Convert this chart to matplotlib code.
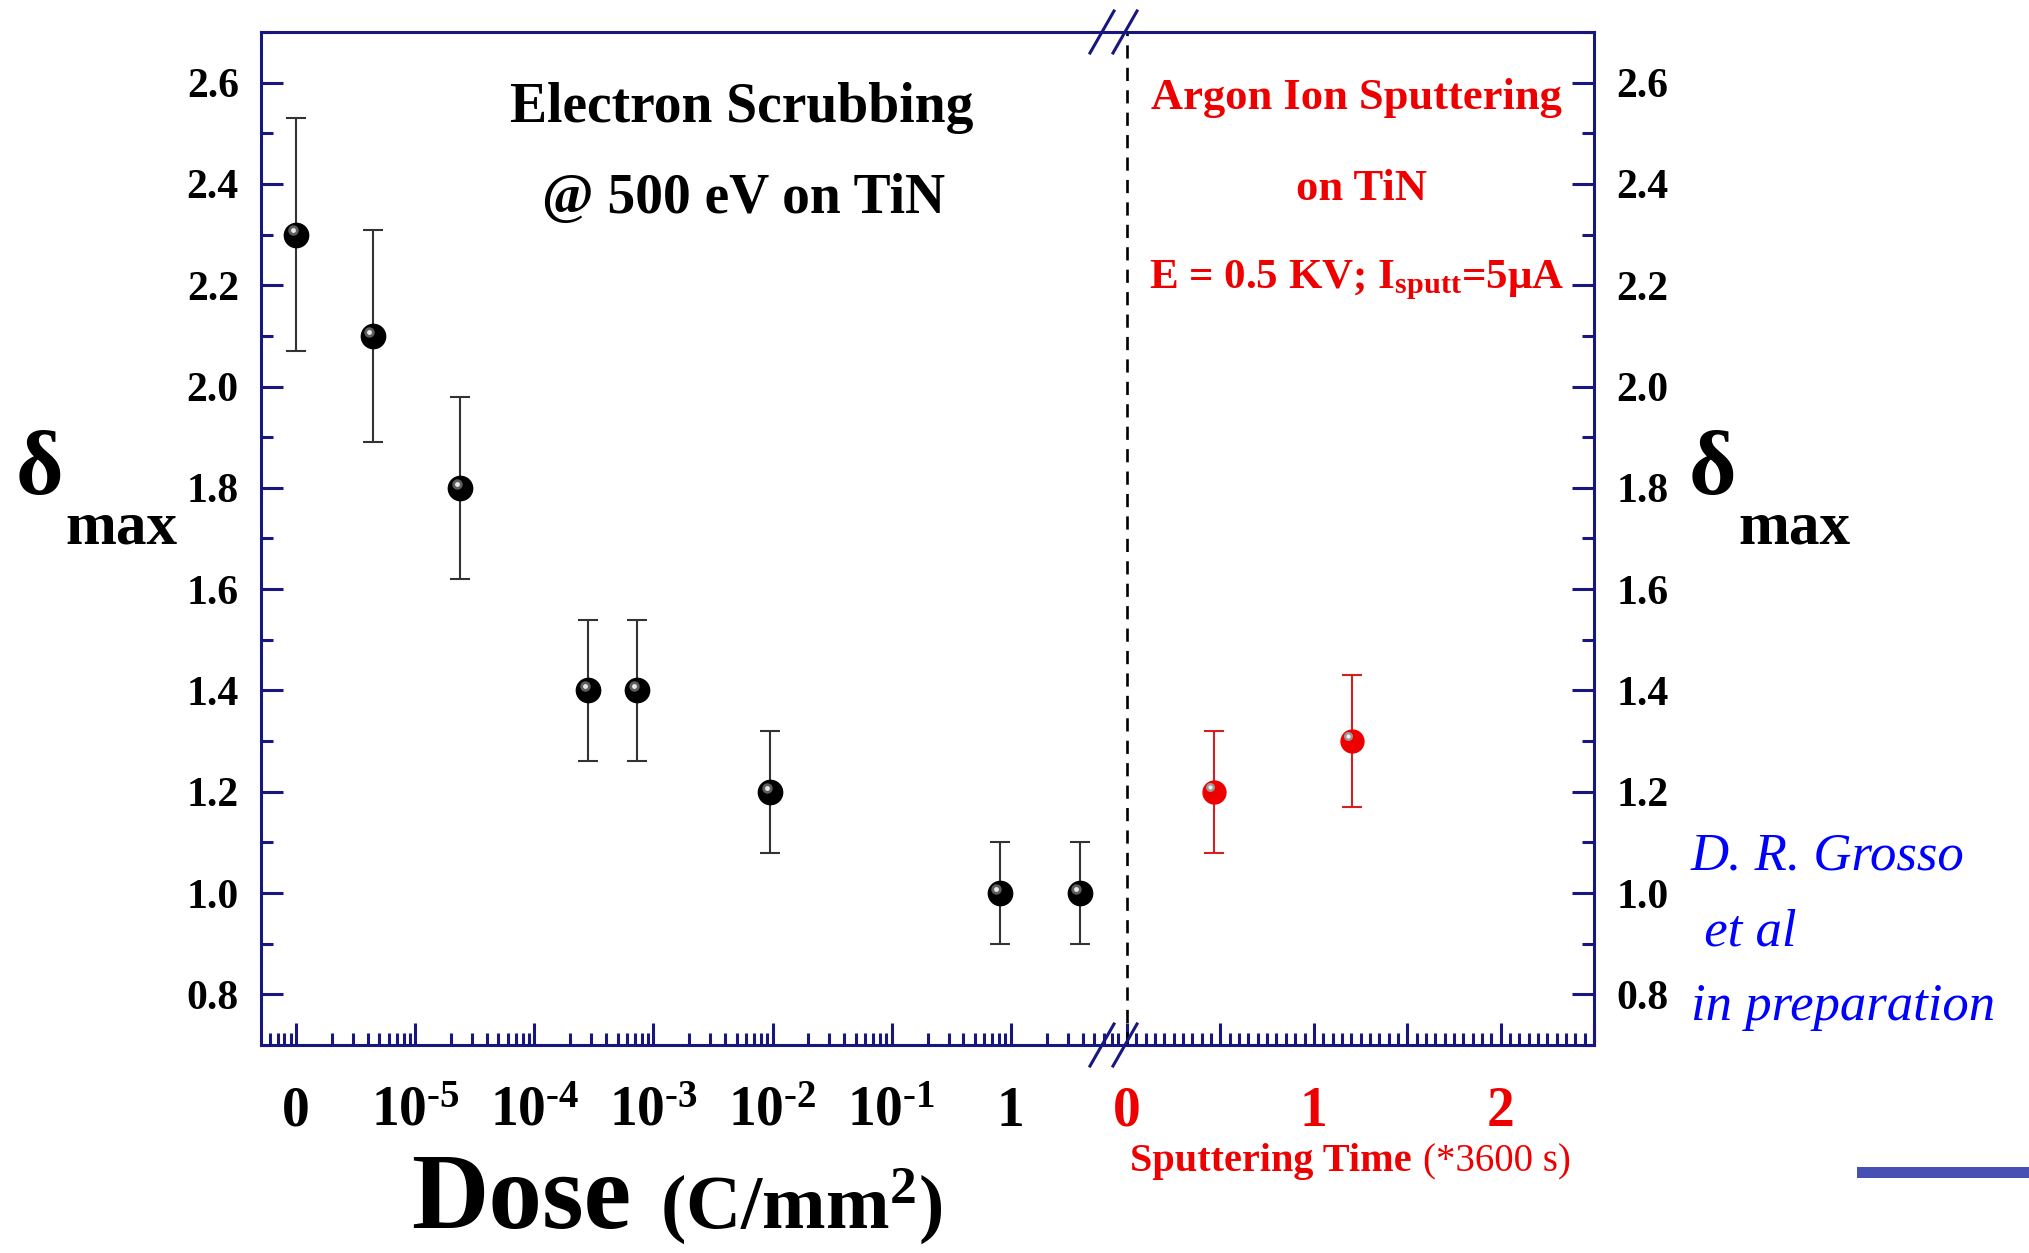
import matplotlib
matplotlib.use('Agg')
import matplotlib.pyplot as plt
from matplotlib.lines import Line2D
from matplotlib.patches import Rectangle
from matplotlib.ticker import FixedLocator, LogLocator, MultipleLocator, FixedFormatter, NullFormatter
from matplotlib.transforms import ScaledTranslation

# ---- data ----
dose          = [1e-6, 4.4e-6, 2.4e-5, 2.85e-4, 7.3e-4, 9.6e-3, 0.81, 3.8]
delta_scrub   = [2.30, 2.10, 1.80, 1.40, 1.40, 1.20, 1.00, 1.00]
err_scrub     = [0.23, 0.21, 0.18, 0.14, 0.14, 0.12, 0.10, 0.10]

sputter_time  = [0.465, 1.205]
delta_sputter = [1.20, 1.30]
err_sputter   = [0.12, 0.13]

dose_ticks    = [1e-6, 1e-5, 1e-4, 1e-3, 1e-2, 1e-1, 1]
dose_labels   = ['0'] + [r'$\mathbf{10^{\text{-}%d}}$' % k for k in (5, 4, 3, 2, 1)] + ['1']
time_ticks    = [0, 0.5, 1, 1.5, 2, 2.5]
time_labels   = ['0', '', '1', '', '2', '']
y_ticks       = [0.8, 1.0, 1.2, 1.4, 1.6, 1.8, 2.0, 2.2, 2.4, 2.6]

NAVY = '#17177f'
RED  = '#ee0000'

plt.rcParams['font.family'] = 'Liberation Serif'
plt.rcParams['font.weight'] = 'bold'
plt.rcParams['mathtext.fontset'] = 'custom'
plt.rcParams['mathtext.rm'] = 'Liberation Serif:bold'
plt.rcParams['mathtext.bf'] = 'Liberation Serif:bold'
plt.rcParams['mathtext.it'] = 'Liberation Serif:italic'

W, H = 2029, 1253
fig = plt.figure(figsize=(W / 100, H / 100), dpi=100)
fig.patch.set_facecolor('white')

top, bot = 32, 1045
split, right = 1114, 1594
ax1 = fig.add_axes([261 / W, 1 - bot / H, (split - 261) / W, (bot - top) / H])
ax2 = fig.add_axes([split / W, 1 - bot / H, (right - split) / W, (bot - top) / H])

for ax in (ax1, ax2):
    ax.set_ylim(0.7, 2.7)
    ax.yaxis.set_major_locator(FixedLocator(y_ticks))
    ax.yaxis.set_minor_locator(MultipleLocator(0.1))
    ax.tick_params(which='both', direction='in', color=NAVY, width=2.2)
    ax.tick_params(which='major', length=16)
    ax.tick_params(which='minor', length=8.5)
    ax.tick_params(axis='y', labelsize=30, pad=16)
    for s in ax.spines.values():
        s.set_color(NAVY)
        s.set_linewidth(2.2)

# ---- left panel: electron scrubbing ----
ax1.set_xscale('log')
ax1.set_xlim(10 ** -6.294, 10 ** 0.866)
ax1.spines['right'].set_visible(False)
ax1.xaxis.set_major_locator(FixedLocator(dose_ticks))
ax1.xaxis.set_major_formatter(FixedFormatter(dose_labels))
ax1.xaxis.set_minor_locator(LogLocator(base=10, subs=range(2, 10), numticks=50))
ax1.xaxis.set_minor_formatter(NullFormatter())
ax1.tick_params(axis='x', labelsize=40, pad=58)
ax1.tick_params(axis='y', which='both', left=True, right=False)
for t in ax1.get_xticklabels():
    t.set_va('baseline')

ax1.errorbar(dose, delta_scrub, yerr=err_scrub, fmt='none', ecolor='#333333',
             elinewidth=1.5, capsize=7.5, capthick=1.5, zorder=3)
ax1.plot(dose, delta_scrub, 'o', ms=17.5, mfc='black', mec='black', zorder=4)
hl1 = ax1.transData + ScaledTranslation(-2.5 / 72, 3 / 72, fig.dpi_scale_trans)
ax1.plot(dose, delta_scrub, 'o', ms=7.5, mfc='#777777', mec='none', alpha=0.8,
         transform=hl1, zorder=5)
ax1.plot(dose, delta_scrub, 'o', ms=3.5, mfc='#e8e8e8', mec='none',
         transform=hl1, zorder=6)

ax1.text(0.563, 0.925, 'Electron Scrubbing', transform=ax1.transAxes,
         ha='center', va='center', fontsize=40)
ax1.text(0.566, 0.835, '@ 500 eV on TiN', transform=ax1.transAxes,
         ha='center', va='center', fontsize=40)

# ---- right panel: argon ion sputtering ----
ax2.set_xlim(-0.07, 2.5)
ax2.spines['left'].set_visible(False)
ax2.xaxis.set_major_locator(FixedLocator(time_ticks))
ax2.xaxis.set_major_formatter(FixedFormatter(time_labels))
ax2.xaxis.set_minor_locator(MultipleLocator(0.05))
ax2.tick_params(axis='x', labelsize=40, pad=58, labelcolor=RED)
ax2.tick_params(axis='y', which='both', left=False, right=True,
                labelleft=False, labelright=True)
for t in ax2.get_xticklabels():
    t.set_va('baseline')

ax2.axvline(0, color='black', lw=1.9, ls=(0, (5, 3.5)), zorder=2)

ax2.errorbar(sputter_time, delta_sputter, yerr=err_sputter, fmt='none', ecolor='#d42020',
             elinewidth=1.5, capsize=7.5, capthick=1.5, zorder=3)
ax2.plot(sputter_time, delta_sputter, 'o', ms=16.5, mfc=RED, mec=RED, zorder=4)
hl2 = ax2.transData + ScaledTranslation(-3 / 72, 3.6 / 72, fig.dpi_scale_trans)
ax2.plot(sputter_time, delta_sputter, 'o', ms=6.5, mfc='#999999', mec='none',
         transform=hl2, zorder=5)
ax2.plot(sputter_time, delta_sputter, 'o', ms=3, mfc='#f0f0f0', mec='none',
         transform=hl2, zorder=6)

ax2.text(0.504, 0.935, 'Argon Ion Sputtering', transform=ax2.transAxes,
         ha='center', va='center', color=RED, fontsize=32)
ax2.text(0.515, 0.845, 'on TiN', transform=ax2.transAxes,
         ha='center', va='center', color=RED, fontsize=32)
ax2.text(0.505, 0.755, r'E = 0.5 KV; I$_{\mathbf{sputt}}$=5$\mathbf{\mu}$A', transform=ax2.transAxes,
         ha='center', va='center', color=RED, fontsize=31)

# ---- axis break marks ----
for cx in (1102, 1125):
    for cy in (top, bot):
        fig.add_artist(Line2D([(cx - 12) / W, (cx + 12) / W],
                              [1 - (cy + 21) / H, 1 - (cy - 21) / H],
                              transform=fig.transFigure, color=NAVY, lw=2.2))

# ---- axis titles ----
fig.text(39 / W, 1 - 472 / H, 'δ', fontsize=66, ha='center', va='center')
fig.text(65 / W, 1 - 543 / H, 'max', fontsize=44, ha='left', va='baseline')
fig.text(1712 / W, 1 - 472 / H, 'δ', fontsize=66, ha='center', va='center')
fig.text(1738 / W, 1 - 543 / H, 'max', fontsize=44, ha='left', va='baseline')

fig.text(411 / W, 1 - 1228 / H, 'Dose', fontsize=77, va='baseline')
fig.text(660 / W, 1 - 1228 / H, r'$\mathbf{(C/mm^{2})}$', fontsize=55, va='baseline')

fig.text(1130 / W, 1 - 1171 / H, 'Sputtering Time', fontsize=29, color=RED, va='baseline')
fig.text(1423 / W, 1 - 1171 / H, '(*3600 s)', fontsize=28, color=RED,
         fontweight='normal', va='baseline')

# ---- citation ----
for txt, x, y in [('D. R. Grosso', 1691, 870), (' et al', 1691, 945),
                  ('in preparation', 1691, 1020)]:
    fig.text(x / W, 1 - y / H, txt, fontsize=38, color='#0000ff', style='italic',
             fontweight='normal', va='baseline')

fig.add_artist(Rectangle((1857 / W, 1 - 1178 / H), (W - 1857) / W, 11 / H,
                         transform=fig.transFigure, color='#4650b4', lw=0))

fig.savefig('out.png', dpi=100)
